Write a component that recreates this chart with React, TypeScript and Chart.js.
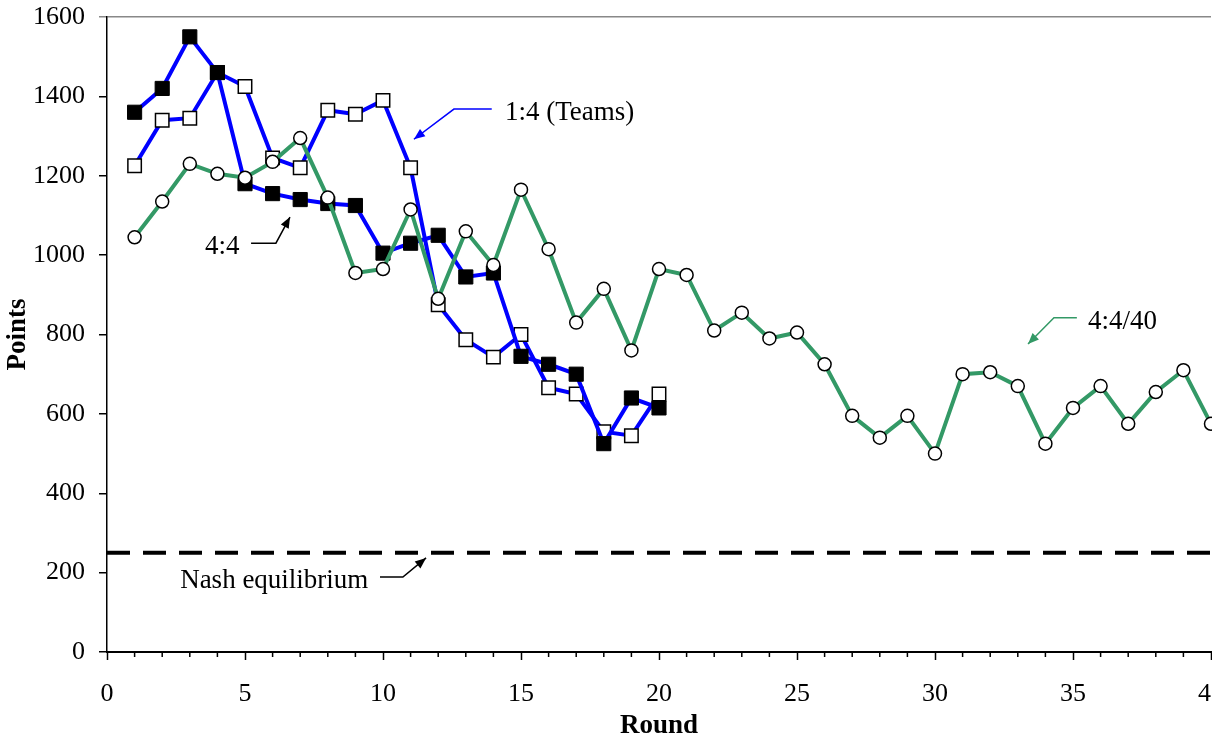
import React, { useEffect, useRef } from 'react';
import { Chart, registerables } from 'chart.js';

Chart.register(...registerables);

// ---- data ----
const rounds20 = [1, 2, 3, 4, 5, 6, 7, 8, 9, 10, 11, 12, 13, 14, 15, 16, 17, 18, 19, 20];
const rounds40 = [1, 2, 3, 4, 5, 6, 7, 8, 9, 10, 11, 12, 13, 14, 15, 16, 17, 18, 19, 20,
  21, 22, 23, 24, 25, 26, 27, 28, 29, 30, 31, 32, 33, 34, 35, 36, 37, 38, 39, 40];
const teams14 = [1225, 1340, 1345, 1460, 1425, 1245, 1220, 1365, 1355, 1390, 1220, 875, 787, 743, 800, 666, 650, 555, 545, 650];
const ind44 = [1360, 1420, 1550, 1460, 1180, 1155, 1140, 1130, 1125, 1005, 1030, 1050, 945, 955, 745, 725, 700, 525, 640, 615];
const ind4440 = [1045, 1135, 1230, 1205, 1195, 1235, 1295, 1145, 955, 965, 1115, 890, 1060, 975, 1165, 1015, 830, 915, 760, 965,
  950, 810, 855, 790, 805, 725, 595, 540, 595, 500, 700, 705, 670, 525, 615, 670, 575, 655, 710, 575];
const nashRounds = [0, 40];
const nashValue = 250;
const xTicksMajor = 5;
const yTickStep = 200;

type Note = { text: string; at: [number, number]; path: [number, number][]; color: string };
const notes: Note[] = [
  { text: '1:4 (Teams)', at: [14.42, 1340], path: [[13.94, 1368], [12.57, 1368], [11.12, 1292]], color: '#0000FF' },
  { text: '4:4', at: [3.55, 1003], path: [[5.22, 1030], [6.12, 1030], [6.63, 1096]], color: '#000000' },
  { text: 'Nash equilibrium', at: [2.65, 161], path: [[9.89, 189], [10.72, 189], [11.56, 237]], color: '#000000' },
  { text: '4:4/40', at: [35.54, 814], path: [[35.14, 842], [34.31, 842], [33.37, 776]], color: '#339966' },
];

const FONT = '"Liberation Serif", "Times New Roman", serif';

const extrasPlugin = {
  id: 'extras',
  afterDraw(chart: any) {
    const { ctx, scales } = chart;
    const xs = scales.x;
    const ys = scales.y;
    ctx.save();
    // minor ticks on the x axis
    ctx.strokeStyle = '#000';
    ctx.lineWidth = 1.5;
    xs.ticks.forEach((t: any) => {
      if (t.value % xTicksMajor !== 0) {
        const px = xs.getPixelForValue(t.value);
        ctx.beginPath();
        ctx.moveTo(px, ys.bottom);
        ctx.lineTo(px, ys.bottom + 5);
        ctx.stroke();
      }
    });
    // annotations
    ctx.font = '27px ' + FONT;
    ctx.textBaseline = 'alphabetic';
    ctx.textAlign = 'left';
    notes.forEach((n) => {
      ctx.fillStyle = '#000';
      ctx.fillText(n.text, xs.getPixelForValue(n.at[0]), ys.getPixelForValue(n.at[1]));
      const pts = n.path.map(([a, b]) => [xs.getPixelForValue(a), ys.getPixelForValue(b)]);
      ctx.strokeStyle = n.color;
      ctx.fillStyle = n.color;
      ctx.lineWidth = 1.5;
      ctx.beginPath();
      pts.forEach(([px, py], i) => (i === 0 ? ctx.moveTo(px, py) : ctx.lineTo(px, py)));
      ctx.stroke();
      const [x1, y1] = pts[pts.length - 2];
      const [x2, y2] = pts[pts.length - 1];
      const ang = Math.atan2(y2 - y1, x2 - x1);
      const len = 11;
      const hw = 4.5;
      ctx.beginPath();
      ctx.moveTo(x2, y2);
      ctx.lineTo(x2 - len * Math.cos(ang) + hw * Math.sin(ang), y2 - len * Math.sin(ang) - hw * Math.cos(ang));
      ctx.lineTo(x2 - len * Math.cos(ang) - hw * Math.sin(ang), y2 - len * Math.sin(ang) + hw * Math.cos(ang));
      ctx.closePath();
      ctx.fill();
    });
    ctx.restore();
  },
};

export default function App() {
  const ref = useRef<HTMLCanvasElement | null>(null);

  useEffect(() => {
    if (!ref.current) return;
    Chart.defaults.font.family = FONT;
    const chart = new Chart(ref.current, {
      type: 'line',
      data: {
        datasets: [
          {
            label: '4:4/40',
            data: rounds40.map((r, i) => ({ x: r, y: ind4440[i] })),
            borderColor: '#339966',
            borderWidth: 4,
            pointStyle: 'circle',
            pointRadius: 6.5,
            pointBackgroundColor: '#ffffff',
            pointBorderColor: '#000000',
            pointBorderWidth: 1.5,
            tension: 0,
            clip: false as any,
          },
          {
            label: '4:4',
            data: rounds20.map((r, i) => ({ x: r, y: ind44[i] })),
            borderColor: '#0000FF',
            borderWidth: 4,
            pointStyle: 'rect',
            pointRadius: 10,
            pointBackgroundColor: '#000000',
            pointBorderColor: '#000000',
            pointBorderWidth: 1,
            tension: 0,
          },
          {
            label: '1:4 (Teams)',
            data: rounds20.map((r, i) => ({ x: r, y: teams14[i] })),
            borderColor: '#0000FF',
            borderWidth: 4,
            pointStyle: 'rect',
            pointRadius: 9.5,
            pointBackgroundColor: '#ffffff',
            pointBorderColor: '#000000',
            pointBorderWidth: 1.5,
            tension: 0,
          },
          {
            label: 'Nash equilibrium',
            data: nashRounds.map((r) => ({ x: r, y: nashValue })),
            borderColor: '#000000',
            borderWidth: 4,
            borderDash: [23, 13],
            pointRadius: 0,
            tension: 0,
          },
        ],
      },
      options: {
        responsive: false,
        animation: false,
        events: [],
        layout: { padding: { left: 0, right: 29, top: 17, bottom: 0 } },
        plugins: { legend: { display: false }, tooltip: { enabled: false } },
        scales: {
          x: {
            type: 'linear',
            min: 0,
            max: 40,
            ticks: {
              stepSize: 1,
              autoSkip: false,
              maxRotation: 0,
              padding: 19,
              color: '#000',
              font: { size: 26, family: FONT },
              callback: (v: any) => (Number(v) % xTicksMajor === 0 ? String(v) : ''),
            },
            grid: {
              drawOnChartArea: false,
              tickLength: 8,
              tickWidth: 1.5,
              tickColor: (c: any) => (c.tick && c.tick.value % xTicksMajor === 0 ? '#000' : 'rgba(0,0,0,0)'),
            },
            border: { color: '#000', width: 2 },
            title: {
              display: true,
              text: 'Round',
              color: '#000',
              font: { size: 27, weight: 'bold', family: FONT, lineHeight: 1 },
              padding: 0,
            },
            afterFit: (s: any) => {
              s.height = 88;
              s.paddingLeft = 0;
              s.paddingRight = 0;
            },
          },
          y: {
            type: 'linear',
            min: 0,
            max: 1600,
            ticks: {
              stepSize: yTickStep,
              padding: 14,
              color: '#000',
              font: { size: 26, family: FONT },
              callback: (v: any) => String(v),
            },
            grid: {
              color: (c: any) => (c.tick && c.tick.value === 1600 ? '#888' : 'rgba(0,0,0,0)'),
              lineWidth: 1.5,
              tickLength: 8,
              tickWidth: 1.5,
              tickColor: (c: any) => (c.tick && c.tick.value === 1600 ? '#888' : '#000'),
            },
            border: { color: '#000', width: 1.5 },
            title: {
              display: true,
              text: 'Points',
              color: '#000',
              font: { size: 27, weight: 'bold', family: FONT, lineHeight: 1 },
              padding: { top: 5, bottom: 0 },
            },
            afterFit: (s: any) => {
              s.width = 107;
              s.paddingTop = 0;
              s.paddingBottom = 0;
            },
          },
        },
      } as any,
      plugins: [extrasPlugin],
    });
    return () => chart.destroy();
  }, []);

  return (
    <div style={{ position: 'absolute', left: 0, top: 0, width: 1212, height: 740, overflow: 'hidden', background: '#fff' }}>
      <canvas ref={ref} width={1240} height={740} style={{ display: 'block' }} />
    </div>
  );
}
